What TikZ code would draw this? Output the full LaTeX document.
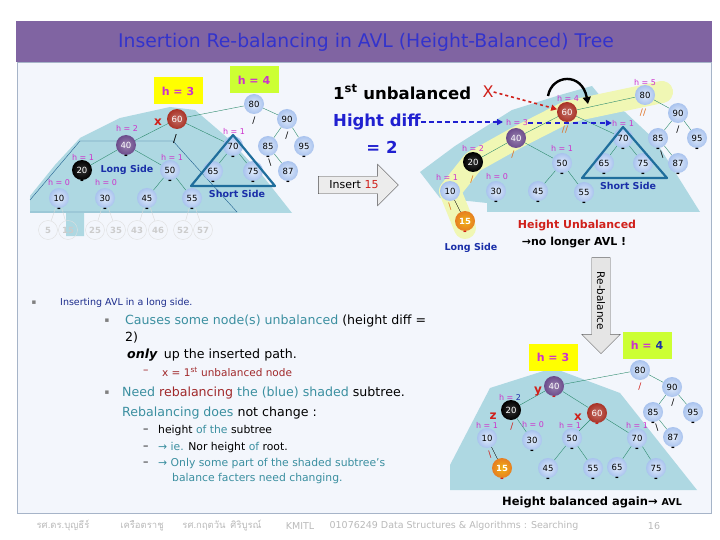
\documentclass[tikz,border=0pt]{standalone}
\usepackage{fontspec}
\setmainfont{DejaVu Sans}
\newfontfamily\thaifont[Script=Thai]{Loma}
\usetikzlibrary{shapes.arrows,arrows.meta}
\definecolor{titleband}{HTML}{8064A2}
\definecolor{titletext}{HTML}{3333CC}
\definecolor{panel}{HTML}{F3F6FC}
\definecolor{panelline}{HTML}{A6B4C8}
\definecolor{zoneblue}{HTML}{AED8E2}
\definecolor{zoneline}{HTML}{1F5F8F}
\definecolor{pathyellow}{HTML}{F0F7B4}
\definecolor{hbyellow}{HTML}{FFFF00}
\definecolor{hblime}{HTML}{CCFF33}
\definecolor{hmag}{HTML}{CC33CC}
\definecolor{edgegreen}{HTML}{2E8B6E}
\definecolor{tri}{HTML}{1F6E9C}
\definecolor{sideblue}{HTML}{1A2FA8}
\definecolor{nodein}{HTML}{E2ECFB}
\definecolor{nodeout}{HTML}{A9C3EE}
\definecolor{nodered}{HTML}{A93226}
\definecolor{nodepurple}{HTML}{6C4C8C}
\definecolor{nodeorange}{HTML}{E67E22}
\definecolor{xred}{HTML}{D0201A}
\definecolor{diffblue}{HTML}{2020D0}
\definecolor{tealtext}{HTML}{3B8FA0}
\definecolor{darkred}{HTML}{A0282A}
\definecolor{navytext}{HTML}{1C2C8C}
\definecolor{bforange}{HTML}{E07020}
\tikzset{
  avl/.style={circle, inner sep=0pt, minimum size=20pt, inner color=nodein, outer color=nodeout,
    font=\fontsize{8.5}{9}\selectfont},
  avlred/.style={avl, inner color=nodered!70!white, outer color=nodered, text=white},
  avlpurple/.style={avl, inner color=nodepurple!70!white, outer color=nodepurple, text=white},
  avlblack/.style={avl, inner color=black!80, outer color=black, text=white},
  avlorange/.style={avl, inner color=nodeorange!60!yellow, outer color=nodeorange, text=white, font=\bfseries\fontsize{8.5}{9}\selectfont},
  ghost/.style={circle, draw=gray!25, inner sep=0pt, minimum size=19pt, text=gray!40,
    font=\bfseries\fontsize{8.5}{9}\selectfont},
  treeedge/.style={draw=edgegreen, thin},
  hl/.style={text=hmag, font=\fontsize{8}{9}\selectfont, inner sep=0pt},
  hbox/.style={minimum width=49pt, minimum height=27pt, text=hmag, font=\bfseries\fontsize{11}{12}\selectfont},
  bal/.style={label={[inner sep=0pt, font=\bfseries\fontsize{9}{9}\selectfont]below:-}},
  balr/.style={label={[inner sep=0pt, text=xred, font=\bfseries\fontsize{9}{9}\selectfont]below:-}},
  bfm/.style={inner sep=0pt, font=\fontsize{9}{9}\selectfont},
  xyz/.style={text=xred, font=\bfseries\fontsize{12}{12}\selectfont, inner sep=0pt},
  sidetext/.style={text=sideblue, font=\bfseries\fontsize{9.5}{10}\selectfont, inner sep=0pt},
  bigtext/.style={font=\bfseries\fontsize{16.5}{18}\selectfont, inner sep=0pt},
  bodytext/.style={anchor=west, inner sep=0pt, font=\fontsize{12.6}{14}\selectfont},
  subtext/.style={anchor=west, inner sep=0pt, font=\fontsize{10.8}{12}\selectfont},
  foot/.style={text=gray!55, font=\fontsize{9.5}{11}\selectfont, inner sep=0pt},
}
\begin{document}
\begin{tikzpicture}[x=1pt, y=-1pt]
  \useasboundingbox (0,0) rectangle (720,540);
  % frame and title
  \fill[titleband] (16,21) rectangle (712,62);
  \draw[panelline, fill=panel] (17,62) rectangle (711,513);
  \node[text=titletext, font=\fontsize{18.8}{20}\selectfont] (title) at (366,42) {Insertion Re-balancing in AVL (Height-Balanced) Tree};

  % ---------- left tree ----------
  \fill[zoneblue] (30,196) -- (55,165) -- (80,138) -- (120,118) -- (170,107) -- (195,110) -- (230,140)
    -- (262,175) -- (292,213) -- (84,213) -- (84,236) -- (66,236) -- (66,213) -- (30,213) -- cycle;
  \draw[zoneline] (30,200) -- (80,141) -- (173,141) -- (237,212) -- (30,212);
  \node[hbox, fill=hbyellow] (Lh3) at (178,91) {h = 3};
  \node[hbox, fill=hblime] (Lh4) at (254,80) {h = 4};

  \node[avl] (L80) at (254,104) {80};
  \node[avlred] (L60) at (177,119) {60};
  \node[avl] (L90) at (287,119) {90};
  \node[avl, bal] (L85) at (268,146) {85};
  \node[avl, bal] (L95) at (304,146) {95};
  \node[avl, bal] (L87) at (288,171) {87};
  \node[avl, bal] (L70) at (233,146) {70};
  \node[avl, bal] (L65) at (213,171) {65};
  \node[avl, bal] (L75) at (253,171) {75};
  \node[avlpurple, bal] (L40) at (126,145) {40};
  \node[avlblack, bal] (L20) at (82,170) {20};
  \node[avl, bal] (L50) at (170,170) {50};
  \node[avl, bal] (L10) at (59,198) {10};
  \node[avl, bal] (L30) at (105,198) {30};
  \node[avl, bal] (L45) at (147,198) {45};
  \node[avl, bal] (L55) at (192,198) {55};
  \foreach \v/\x/\p in {5/48/L10, 15/68/L10, 25/95/L30, 35/116/L30, 43/137/L45, 46/158/L45, 52/183/L55, 57/203/L55} {
    \node[ghost] (G\v) at (\x,230) {\v};
    \draw[gray!30] (\p) -- (G\v);
  }
  \foreach \a/\b in {L80/L60, L80/L90, L90/L85, L90/L95, L85/L87, L60/L40, L60/L70, L40/L20, L40/L50,
    L50/L45, L50/L55, L70/L65, L70/L75}
    \draw[treeedge] (\a) -- (\b);
  \draw[tri, line width=2.2pt, line join=round] (233,135) -- (191,186) -- (275,186) -- cycle;
  \node[hl] (Lh40) at (127,128) {h = 2};
  \node[hl] (Lh20) at (83,157) {h = 1};
  \node[hl] (Lh50) at (172,157) {h = 1};
  \node[hl] (Lh10) at (59,183) {h = 0};
  \node[hl] (Lh30) at (106,183) {h = 0};
  \node[hl] (Lh70) at (234,131) {h = 1};
  \node[xyz] (Lx) at (158,122) {x};
  \node[sidetext] (Llong) at (127,170) {Long Side};
  \node[sidetext] (Lshort) at (237,194) {Short Side};
  \node[bfm] (Lb80) at (254,121) {/};
  \node[bfm] (Lb90) at (287,136) {/};
  \node[bfm] (Lb85) at (270,163) {\textbackslash};
  \node[bfm, font=\fontsize{11}{11}\selectfont] (Lb60) at (175,139) {/};

  % ---------- insert arrow ----------
  \node[single arrow, draw=black!70, fill=gray!15, minimum height=80pt, inner sep=4.5pt,
    single arrow head extend=12pt, font=\fontsize{11}{12}\selectfont] (ins) at (354,185)
    {Insert {\color{xred}15}};

  % ---------- right tree (after insert) ----------
  \fill[zoneblue] (420,172) -- (455,146) -- (512,110) -- (560,95) -- (592,86) -- (605,102)
    -- (625,112) -- (655,140) -- (700,212) -- (487,212) -- (487,203) -- (440,198) -- cycle;
  \coordinate (Ry80) at (662,92);
  \coordinate (Ry15) at (465,228);
  \draw[pathyellow, line width=22pt, line join=round, line cap=round]
    (Ry80) -- (567,112) -- (516,138) -- (473,162) -- (450,191) -- (Ry15);

  \node[avl] (R80) at (645,95) {80};
  \node[avlred] (R60) at (567,112) {60};
  \node[avl] (R90) at (678,113) {90};
  \node[avl, bal] (R85) at (658,138) {85};
  \node[avl, bal] (R95) at (697,138) {95};
  \node[avl, bal] (R87) at (678,163) {87};
  \node[avl, bal] (R70) at (623,138) {70};
  \node[avl, bal] (R65) at (604,163) {65};
  \node[avl, bal] (R75) at (643,163) {75};
  \node[avlpurple] (R40) at (516,138) {40};
  \node[avlblack] (R20) at (473,162) {20};
  \node[avl, bal] (R50) at (562,163) {50};
  \node[avl] (R10) at (450,191) {10};
  \node[avl, bal] (R30) at (496,191) {30};
  \node[avl, bal] (R45) at (538,191) {45};
  \node[avl, bal] (R55) at (584,192) {55};
  \node[avlorange, balr] (R15) at (465,221) {15};
  \foreach \a/\b in {R80/R60, R80/R90, R90/R85, R90/R95, R85/R87, R60/R40, R60/R70, R40/R20, R40/R50,
    R50/R45, R50/R55, R70/R65, R70/R75}
    \draw[treeedge] (\a) -- (\b);
  \draw (R10) -- (R15);
  \draw[tri, line width=2.2pt, line join=round] (623,127) -- (582,178) -- (667,178) -- cycle;
  \node[hl] (Rh80) at (645,83) {h = 5};
  \node[hl] (Rh60) at (568,98) {h = 4};
  \node[hl] (Rh40) at (517,123) {h = 3};
  \node[hl] (Rh70) at (623,123) {h = 1};
  \node[hl] (Rh20) at (473,148) {h = 2};
  \node[hl] (Rh50) at (562,148) {h = 1};
  \node[hl] (Rh10) at (447,177) {h = 1};
  \node[hl] (Rh30) at (497,177) {h = 0};
  \node[bfm, text=bforange] (Rb80) at (643,113) {//};
  \node[bfm, text=bforange] (Rb60) at (565,130) {//};
  \node[bfm, text=bforange] (Rb40) at (513,155) {/};
  \node[bfm, text=bforange] (Rb20) at (472,180) {/};
  \node[bfm, text=bforange] (Rb10) at (450,207) {\textbackslash};
  \node[bfm] (Rb90) at (678,130) {/};
  \node[bfm] (Rb85) at (662,155) {\textbackslash};
  \node[sidetext] (Rshort) at (628,186) {Short Side};
  \node[sidetext] (Rlong) at (471,248) {Long Side};

  \node[bigtext, anchor=west] (first) at (333,92) {1\textsuperscript{st} unbalanced};
  \node[text=xred, font=\fontsize{16}{16}\selectfont, inner sep=0pt] (RX) at (488,92) {X};
  \draw[xred, line width=1.6pt, dashed, -{Triangle[length=6pt,width=6pt]}] (RX.east) -- (R60);
  \node[bigtext, anchor=west, text=diffblue] (diff) at (333,122) {Hight diff};
  \coordinate (difftip) at (503,122);
  \draw[diffblue, line width=2pt, dash pattern=on 5pt off 3pt, -{Triangle[length=6pt,width=6pt]}] (diff.east) -- (difftip);
  \node[bigtext, text=diffblue] (eq2) at (382,147) {= 2};
  \draw[diffblue, line width=2pt, dash pattern=on 5pt off 4pt, -{Triangle[length=6pt,width=6pt]}] (Rh40.east) -- (Rh70.west);
  \coordinate (rotA) at (548,96);
  \coordinate (rotB) at (588,104);
  \draw[line width=2.4pt, -{Triangle[length=7pt,width=8pt]}] (rotA) .. controls (552,74) and (582,72) .. (rotB);
  \node[text=xred, font=\bfseries\fontsize{11}{12}\selectfont] (unbal) at (577,226) {Height Unbalanced};
  \node[font=\bfseries\fontsize{11}{12}\selectfont] (nolonger) at (574,243) {→no longer AVL !};

  % ---------- re-balance arrow ----------
  \node[single arrow, draw=black!60, fill=gray!20, rotate=-90, minimum height=96pt, inner sep=5pt,
    single arrow head extend=10pt, font=\fontsize{10.5}{11}\selectfont] (rebal) at (601,301) {Re-balance};

  % ---------- bottom tree (balanced) ----------
  \fill[zoneblue] (450,465) -- (490,388) -- (553,368) -- (620,393) -- (697,490) -- (450,490) -- cycle;
  \node[hbox, fill=hbyellow] (Bh3) at (553,357) {h = 3};
  \node[hbox, fill=hblime] (Bh4) at (647,345) {h = {\color{sideblue}4}};
  \node[avl] (B80) at (640,370) {80};
  \node[avl] (B90) at (672,387) {90};
  \node[avl, bal] (B85) at (653,412) {85};
  \node[avl, bal] (B95) at (693,412) {95};
  \node[avl, bal] (B87) at (673,437) {87};
  \node[avlpurple, balr] (B40) at (554,386) {40};
  \node[avlblack] (B20) at (511,410) {20};
  \node[avlred, balr] (B60) at (597,413) {60};
  \node[avl] (B10) at (487,438) {10};
  \node[avl, bal] (B30) at (532,440) {30};
  \node[avl, bal] (B50) at (572,438) {50};
  \node[avl, bal] (B70) at (637,438) {70};
  \node[avlorange, balr] (B15) at (502,468) {15};
  \node[avl, bal] (B45) at (548,468) {45};
  \node[avl, bal] (B55) at (593,468) {55};
  \node[avl, bal] (B65) at (617,467) {65};
  \node[avl, bal] (B75) at (656,468) {75};
  \foreach \a/\b in {B80/B40, B80/B90, B90/B85, B90/B95, B85/B87, B40/B20, B40/B60, B20/B30,
    B60/B50, B60/B70, B50/B45, B50/B55, B70/B65, B70/B75}
    \draw[treeedge] (\a) -- (\b);
  \draw (B10) -- (B15);
  \node[hl] (Bh20) at (510,397) {h = {\color{sideblue}2}};
  \node[hl] (Bh10) at (487,425) {h = 1};
  \node[hl] (Bh30) at (533,425) {h = 0};
  \node[hl] (Bh50) at (570,425) {h = 1};
  \node[hl] (Bh70) at (637,425) {h = 1};
  \node[xyz] (By) at (538,392) {y};
  \node[xyz] (Bz) at (493,416) {z};
  \node[xyz] (Bx) at (578,417) {x};
  \node[bfm, text=xred] (Bb80) at (640,387) {/};
  \node[bfm] (Bb90) at (673,403) {/};
  \node[bfm] (Bb85) at (657,428) {\textbackslash};
  \node[bfm, text=xred] (Bb20) at (512,427) {/};
  \node[bfm, text=xred] (Bb10) at (490,455) {\textbackslash};
  \node[font=\bfseries\fontsize{11.5}{12}\selectfont] (again) at (592,502)
    {Height balanced again→ {\fontsize{9.5}{10}\selectfont AVL}};

  % ---------- text ----------
  \node[text=gray, font=\fontsize{7}{8}\selectfont] (d1) at (34,303) {▪};
  \node[anchor=west, inner sep=0pt, text=navytext, font=\fontsize{9.5}{10}\selectfont] (t1) at (60,303) {Inserting AVL in a long side.};
  \node[text=gray, font=\fontsize{7}{8}\selectfont] (d2) at (107,321) {▪};
  \node[bodytext] (t2) at (125,321) {{\color{tealtext}Causes some node(s) unbalanced} (height diff =};
  \node[bodytext] (t3) at (125,338) {2)};
  \node[bodytext] (t4) at (127,355) {\textbf{\textit{only}}\, up the inserted path.};
  \node[subtext, text=darkred] (d4) at (143,372) {--};
  \node[subtext, text=darkred, font=\fontsize{10.5}{12}\selectfont] (t5) at (162,372) {x = 1\textsuperscript{st} unbalanced node};
  \node[text=gray, font=\fontsize{7}{8}\selectfont] (d3) at (107,393) {▪};
  \node[bodytext, text=tealtext] (t6) at (122,393) {Need {\color{darkred}rebalancing} the (blue) shaded {\color{black}subtree.}};
  \node[bodytext, text=tealtext] (t7) at (122,413) {Rebalancing does {\color{black}not change :}};
  \node[subtext] (d7) at (143,431) {--};
  \node[subtext] (t8) at (158,431) {height {\color{tealtext}of the} subtree};
  \node[subtext] (d8) at (143,448) {--};
  \node[subtext] (t9) at (158,448) {{\color{tealtext}→ ie.} Nor height {\color{tealtext}of} root.};
  \node[subtext] (d9) at (143,464) {--};
  \node[subtext, text=tealtext] (t10) at (158,464) {→ Only some part of the shaded subtree's};
  \node[subtext, text=tealtext] (t11) at (172,479) {balance facters need changing.};

  % ---------- footer ----------
  \node[foot] (f1) at (63,526) {\thaifont รศ.ดร.บุญธีร์};
  \node[foot] (f2) at (142,526) {\thaifont เครือตราชู};
  \node[foot] (f3) at (222,526) {\thaifont รศ.กฤตวัน\enspace ศิริบูรณ์};
  \node[foot] (f4) at (300,526) {KMITL};
  \node[foot] (f5) at (454,526) {01076249 Data Structures \& Algorithms : Searching};
  \node[foot] (f6) at (654,526) {16};
\end{tikzpicture}
\end{document}
